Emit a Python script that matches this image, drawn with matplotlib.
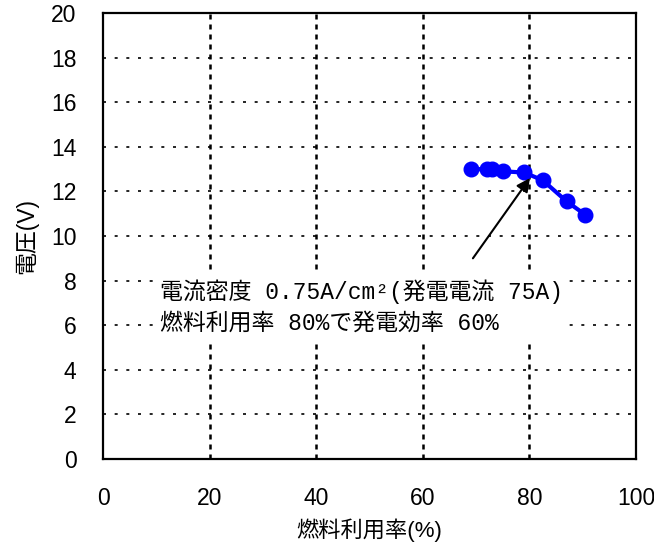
import matplotlib
matplotlib.use("Agg")
import matplotlib.pyplot as plt

plt.rcParams['font.family'] = ['Liberation Sans', 'Noto Sans CJK JP', 'DejaVu Sans']

# fuel utilization (%) vs cell voltage (V)
fuel_util = [69, 72, 73, 75, 79, 82.5, 87, 90.5]
voltage = [13.0, 13.0, 13.0, 12.9, 12.85, 12.5, 11.55, 10.95]

x_ticks = [0, 20, 40, 60, 80, 100]
y_ticks = list(range(0, 21, 2))

note_text = "電流密度 0.75A/cm²(発電電流 75A)\n燃料利用率 80%で発電効率 60%"
note_xy = (80.1, 12.6)
note_tail = (69.4, 9.0)

fig = plt.figure(figsize=(6.54, 5.56), dpi=100)
ax = fig.add_axes([0.1575, 0.1745, 0.815, 0.802])

ax.plot(fuel_util, voltage, color='#0000ff', lw=3, marker='o', ms=10.5, zorder=4)

ax.set_xlim(0, 100)
ax.set_ylim(0, 20)
ax.set_xticks(x_ticks)
ax.set_yticks(y_ticks)
ax.tick_params(length=0, labelsize=16.5)
ax.tick_params(axis='x', pad=20)
ax.tick_params(axis='y', pad=19)

# grid: dashed verticals, dotted horizontals
for xv in x_ticks[1:-1]:
    ax.axvline(xv, color='black', lw=1.8, ls=(0, (2, 2)), zorder=1)
for yv in y_ticks[1:-1]:
    ax.axhline(yv, color='black', lw=1.2, ls=(0, (1.8, 5.2)), zorder=1)

for s in ax.spines.values():
    s.set_linewidth(1.6)

ax.set_xlabel("燃料利用率(%)", fontsize=16, labelpad=6)
ax.set_ylabel("電圧(V)", fontsize=16.5, labelpad=9)

ax.annotate("", xy=note_xy, xytext=note_tail,
            arrowprops=dict(arrowstyle='-|>', color='black', lw=1.5,
                            mutation_scale=20, shrinkA=0, shrinkB=0),
            zorder=5)
ax.text(10.6, 6.82, note_text, fontsize=16.5,
        family=['Liberation Mono', 'Noto Sans CJK JP', 'DejaVu Sans'],
        va='center', ha='left', linespacing=1.45,
        bbox=dict(facecolor='white', edgecolor='none', pad=5), zorder=3)

fig.savefig("out.png", dpi=100, facecolor='white')
